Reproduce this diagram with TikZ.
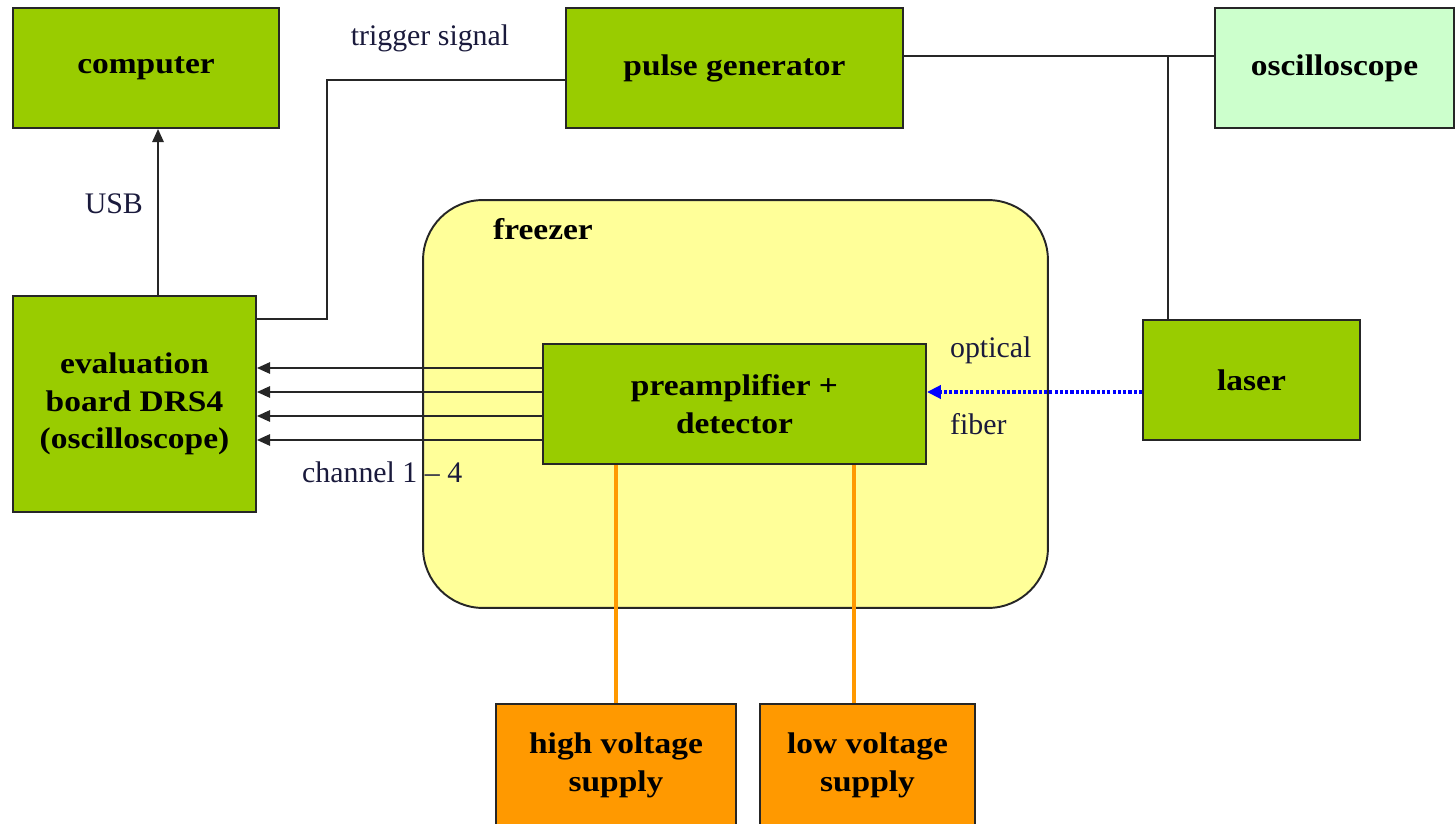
\documentclass[tikz,border=0pt]{standalone}
\usepackage{fontspec}
\setmainfont{Liberation Serif}
\newfontfamily\blockfont{Liberation Serif}[FakeStretch=1.12]
\usetikzlibrary{arrows.meta,positioning,calc}
\definecolor{boxgreen}{HTML}{99CC00}
\definecolor{scopegreen}{HTML}{CCFFCC}
\definecolor{freezeryel}{HTML}{FFFF99}
\definecolor{supplyorg}{HTML}{FF9900}
\definecolor{fiberblue}{HTML}{0000FF}
\definecolor{edgegray}{HTML}{262626}
\definecolor{labnavy}{HTML}{1A1A3C}

\begin{document}
\begin{tikzpicture}[x=0.02cm,y=-0.02cm,>={Triangle[length=7.5pt,width=6.5pt]},
  block/.style={draw=edgegray,fill=boxgreen,line width=1.1pt,align=center,
                font=\blockfont\bfseries\fontsize{17}{21.5}\selectfont,
                minimum height=2.4cm,inner sep=2pt},
  head/.style={font=\blockfont\bfseries\fontsize{17}{21.5}\selectfont,inner sep=1pt},
  lab/.style={font=\fontsize{17}{20}\selectfont,text=labnavy,inner sep=1pt},
  wire/.style={draw=edgegray,line width=1.1pt},
  supply/.style={draw=supplyorg,line width=2.2pt},
  fiber/.style={draw=fiberblue,line width=2.3pt,dash pattern=on 1.8pt off 1.2pt}]
\useasboundingbox (0,0) rectangle (1455,824);

% ===== top row =====
\node[block,minimum width=5.32cm] (comp) at (146,68) {computer};
\node[block,minimum width=6.74cm] (pulse) at (734.5,68) {pulse generator};
\node[block,fill=scopegreen,minimum width=4.78cm] (osc) at (1334.5,68) {oscilloscope};

% ===== freezer with detector =====
\node[draw=edgegray,fill=freezeryel,line width=1.1pt,rounded corners=1.2cm,
      minimum width=12.5cm,minimum height=8.16cm] (frz) at (735.5,404) {};
\node[head,anchor=west] (frzlab) at ([xshift=1.38cm,yshift=-0.6cm]frz.north west) {freezer};
\node[block,minimum width=7.66cm] (pre) at (734.5,404) {preamplifier +\\detector};

% ===== board and laser =====
\node[block,minimum width=4.86cm,minimum height=4.32cm] (eval) at (134.5,404)
      {evaluation\\board DRS4\\(oscilloscope)};
\node[block,minimum width=4.34cm] (laser) at (1251.5,380) {laser};

% ===== supplies =====
\node[block,fill=supplyorg,minimum width=4.8cm,minimum height=2.44cm] (hv) at (616,765) {high voltage\\supply};
\node[block,fill=supplyorg,minimum width=4.3cm,minimum height=2.44cm] (lv) at (867.5,765) {low voltage\\supply};

% ===== connections =====
\draw[wire,->] ([xshift=2.92cm]eval.north west) -- ([xshift=2.92cm]eval.north west |- comp.south);
\node[lab,anchor=east] (usb) at (145,204) {USB};

\coordinate (trig) at (327,80);
\draw[wire] ([yshift=-0.48cm]eval.north east) -| (trig) -- (trig -| pulse.west);
\node[lab] (trglab) at (430,38) {trigger signal};

\coordinate (tap) at (1168,56);
\draw[wire] ([yshift=0.24cm]pulse.east) -- ([yshift=0.24cm]pulse.east -| osc.west);
\draw[wire] (tap) -- (tap |- laser.north);

\foreach \dy in {0.72,0.24,-0.24,-0.72}
  \draw[wire,->] ([yshift=\dy cm]pre.west) -- ([yshift=\dy cm]pre.west -| eval.east);
\node[lab,anchor=west] (chlab) at (300,472) {channel 1 – 4};

\draw[fiber,-{Triangle[length=8pt,width=7.5pt]}] ([yshift=-0.24cm]laser.west) -- ([yshift=-0.24cm]laser.west -| pre.east);
\node[lab,anchor=west] (optlab) at (948,350) {optical};
\node[lab,anchor=west] (fiblab) at (948,424) {fiber};

\draw[supply] (hv.north) -- (hv.north |- pre.south);
\draw[supply] ([xshift=1.9cm]lv.north west) -- ([xshift=1.9cm]lv.north west |- pre.south);

\end{tikzpicture}
\end{document}
